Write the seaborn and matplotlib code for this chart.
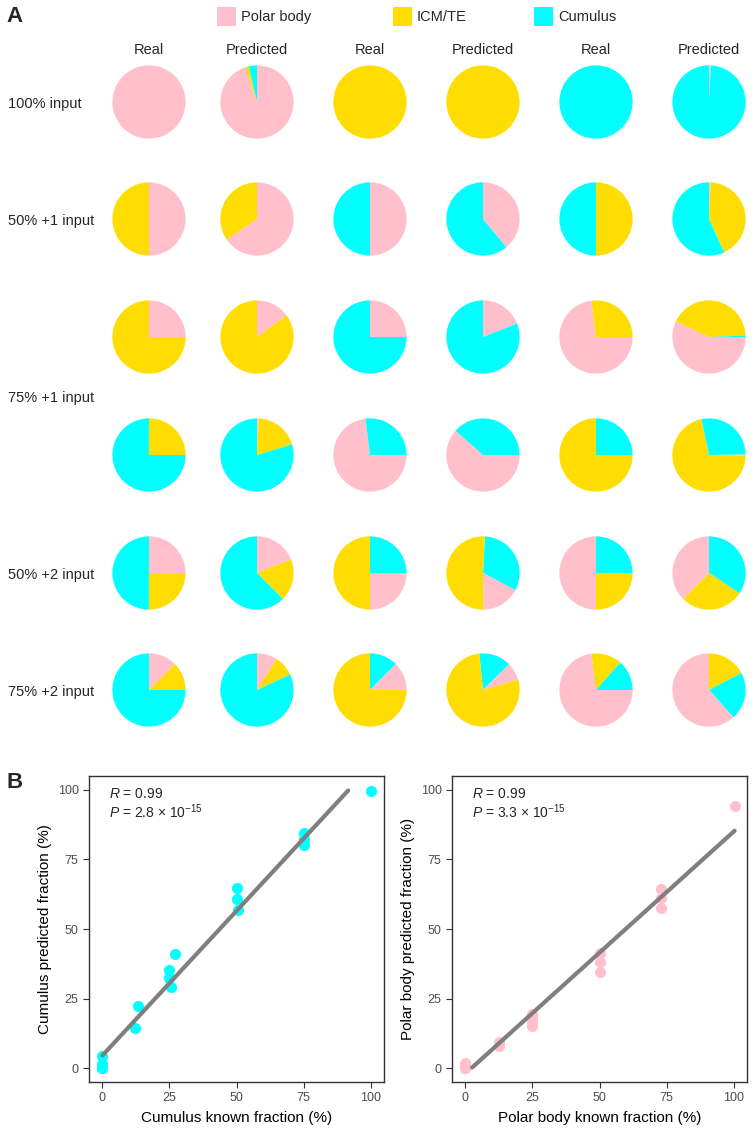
import numpy as np
import matplotlib
matplotlib.use("Agg")
import matplotlib.pyplot as plt
import seaborn as sns
from matplotlib.patches import Rectangle

# ---------------- data ----------------
categories = ["Polar body", "ICM/TE", "Cumulus"]
cat_codes = ["P", "Y", "C"]
cat_colors = ["#FFC0CB", "#FFDD00", "#00FFFF"]

col_labels = ["Real", "Predicted", "Real", "Predicted", "Real", "Predicted"]
row_labels = ["100% input", "50% +1 input", "75% +1 input", "50% +2 input", "75% +2 input"]

# pie fractions (%) per pie row (6 rows of pies) x 6 columns
polar_pct = [
    [100, 94.8, 0, 0, 0, 0.8],
    [50, 65.5, 50, 39, 0, 0.7],
    [25, 15, 25, 19, 73, 57],
    [0, 0.8, 73, 61.5, 0, 0.5],
    [25, 19, 25, 17, 50, 37.5],
    [12.5, 9, 12.5, 7.8, 73, 61.6],
]
icm_pct = [
    [0, 1.6, 100, 100, 0, 0],
    [50, 34.5, 0, 0, 50, 42.5],
    [75, 85, 0, 0, 27, 42.4],
    [25, 19.5, 0, 0, 75, 71.5],
    [25, 18.5, 50, 51, 25, 28.1],
    [12.5, 9, 75, 77.9, 13.5, 17.3],
]
cumulus_pct = [
    [0, 3.6, 0, 0, 100, 99.2],
    [0, 0, 50, 61, 50, 56.8],
    [0, 0, 75, 81, 0, 0.6],
    [75, 79.7, 27, 38.5, 25, 28],
    [50, 62.5, 25, 32, 25, 34.4],
    [75, 82, 12.5, 14.3, 13.5, 21.1],
]
# clockwise slice order and start angle (deg clockwise from 12 o'clock)
slice_order = [
    ["PYC"] * 6,
    ["PYC"] * 6,
    ["PYC"] * 6,
    ["PYC", "PYC", "PYC", "PYC", "CPY", "PYC"],
    ["PYC", "PYC", "CPY", "CPY", "CYP", "CYP"],
    ["PYC", "PYC", "CPY", "CPY", "PYC", "YCP"],
]
start_deg = [
    [0, 0, 0, 0, 0, 0],
    [0, 0, 0, 0, 0, 0],
    [0, 0, 0, 0, 90, 90],
    [0, 0, 90, 90, 0, 89],
    [0, 0, 0, 3, 0, 0],
    [0, 0, 0, 354, 90, 0],
]

# scatter data (panel B)
cum_known = [0, 0, 0, 0, 0, 12.3, 13.4, 24.9, 24.9, 25.5, 27.1, 50.1, 50.1, 50.4, 75, 75.2, 75.3, 100.2]
cum_pred = [4.3, 1.5, 0.3, 0, 0, 14.5, 22.3, 35.4, 32.4, 29.2, 41.0, 64.6, 60.8, 57.0, 84.4, 82.4, 80.2, 99.6]
pb_known = [0, 0, 0, 0, 0, 12.4, 12.6, 25, 25, 25, 25, 50, 50, 50, 73, 73, 73, 100.4]
pb_pred = [2.0, 1.2, 0.5, 0, 0, 9.5, 8.0, 19.5, 17.8, 16.5, 15.0, 41.5, 38.0, 34.6, 64.4, 61.0, 57.6, 94.2]
cum_stats = ("0.99", "2.8")
pb_stats = ("0.99", "3.3")

# ---------------- style ----------------
sns.set_theme(style="white")
plt.rcParams['font.family'] = ['Liberation Sans', 'DejaVu Sans']
plt.rcParams['mathtext.fontset'] = 'custom'
plt.rcParams['mathtext.rm'] = 'Liberation Sans'
plt.rcParams['mathtext.it'] = 'Liberation Sans:italic'

W, H = 756, 1132
fig = plt.figure(figsize=(W / 100, H / 100), dpi=100)
fig.patch.set_facecolor("white")


def fx(x):
    return x / W


def fy(y):
    return 1 - y / H


# ---------------- panel A ----------------
fig.text(fx(6), fy(17), "A", fontsize=16, fontweight="bold", va="center", ha="left")

# legend
leg_sq_x = [217, 393, 534]
for i, name in enumerate(categories):
    fig.add_artist(Rectangle((fx(leg_sq_x[i]), fy(26)), 19 / W, 19 / H,
                             transform=fig.transFigure, facecolor=cat_colors[i],
                             edgecolor="none"))
    fig.text(fx(leg_sq_x[i] + 24), fy(17), name, fontsize=10.5, va="center", ha="left")

col_x = [149, 257, 370, 483, 596, 709]
row_y = [102, 219, 337, 455, 573, 690]
label_y = [row_y[0], row_y[1], (row_y[2] + row_y[3]) / 2, row_y[4], row_y[5]]

for c, lab in enumerate(col_labels):
    fig.text(fx(col_x[c]), fy(50), lab, fontsize=10.5, ha="center", va="center")
for r, lab in enumerate(row_labels):
    fig.text(fx(8), fy(label_y[r] + 2), lab, fontsize=10.5, ha="left", va="center")

D = 74
color_map = dict(zip(cat_codes, cat_colors))
for r in range(6):
    for c in range(6):
        vals = {"P": polar_pct[r][c], "Y": icm_pct[r][c], "C": cumulus_pct[r][c]}
        order = [k for k in slice_order[r][c] if vals[k] > 0]
        sizes = [vals[k] for k in order]
        cols = [color_map[k] for k in order]
        ax = fig.add_axes([fx(col_x[c] - D / 2), fy(row_y[r] + D / 2), D / W, D / H])
        ax.pie(sizes, colors=cols, startangle=90 - start_deg[r][c], counterclock=False,
               radius=1, wedgeprops=dict(linewidth=0))
        ax.set_xlim(-1.01, 1.01)
        ax.set_ylim(-1.01, 1.01)
        ax.set_aspect("auto")
        ax.axis("off")

# ---------------- panel B ----------------
fig.text(fx(7), fy(783), "B", fontsize=16, fontweight="bold", va="center", ha="left")


def scatter_panel(rect, xk, yp, color, xlabel, ylabel, stats):
    ax = fig.add_axes(rect)
    sns.scatterplot(x=xk, y=yp, color=color, s=64, linewidth=0, ax=ax, zorder=2,
                    clip_on=False)
    m, b = np.polyfit(xk, yp, 1)
    xs = np.linspace(min(xk), max(xk), 400)
    ys = m * xs + b
    mask = (ys >= 0) & (ys <= 100)
    sns.lineplot(x=xs[mask], y=ys[mask], color="#7F7F7F", linewidth=3, ax=ax, zorder=3)
    ax.set_xlim(-5, 105)
    ax.set_ylim(-5, 105)
    ax.set_xticks([0, 25, 50, 75, 100])
    ax.set_yticks([0, 25, 50, 75, 100])
    ax.tick_params(axis="both", which="both", length=4, width=0.8, color="#333333",
                   labelcolor="#4D4D4D", labelsize=9, direction="out",
                   bottom=True, left=True)
    for sp in ax.spines.values():
        sp.set_color("#333333")
        sp.set_linewidth(1.0)
    ax.set_xlabel(xlabel, fontsize=11, color="black", labelpad=5)
    ax.set_ylabel(ylabel, fontsize=11, color="black", labelpad=4)
    ax.grid(False)
    ax.text(2.3, 98.6, r"$\it{R}$ = " + stats[0], fontsize=10, va="center", ha="left")
    ax.text(2.3, 92.2, r"$\it{P}$ = " + stats[1] + r" × 10$^{\mathregular{-15}}$",
            fontsize=10, va="center", ha="left")
    return ax


scatter_panel([fx(89), fy(1082), (384 - 89) / W, (1082 - 776) / H], cum_known, cum_pred,
              cat_colors[2], "Cumulus known fraction (%)", "Cumulus predicted fraction (%)",
              cum_stats)
scatter_panel([fx(452), fy(1082), (747 - 452) / W, (1082 - 776) / H], pb_known, pb_pred,
              cat_colors[0], "Polar body known fraction (%)", "Polar body predicted fraction (%)",
              pb_stats)

fig.savefig("out.png", dpi=100, facecolor="white")
